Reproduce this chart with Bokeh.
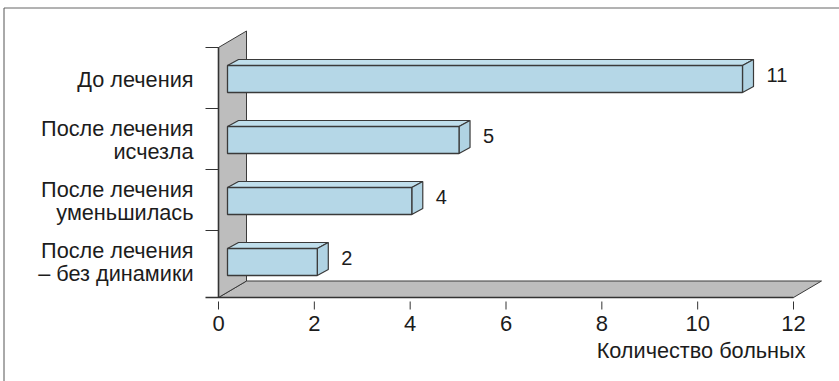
from bokeh.plotting import figure
from bokeh.models import Range1d
from bokeh.core.properties import value
from bokeh.embed import file_html
from bokeh.resources import INLINE

# ---------------- data ----------------
categories = ["До лечения",
              "После лечения\nисчезла",
              "После лечения\nуменьшилась",
              "После лечения\n– без динамики"]
counts = [11, 5, 4, 2]
x_ticks = [0, 2, 4, 6, 8, 10, 12]
x_tick_labels = ["0", "2", "4", "6", "8", "10", "12"]
x_axis_title = "Количество больных"

# ---------------- layout / style ----------------
W, H = 839, 381
X0_PX = 218            # pixel of x = 0
PX_X = 575 / 12        # pixels per patient
Y_TOP_PX = 47          # pixel of top of category axis
PX_Y = 61              # pixels per category band
FONT = value("Liberation Sans")
TXT = "#1c1c1c"
n = len(categories)
xmax = x_ticks[-1]


def dx(px):
    return px / PX_X


def dy(px):
    return px / PX_Y


x_start = -X0_PX / PX_X
x_end = x_start + W / PX_X
y_end = n + Y_TOP_PX / PX_Y
y_start = y_end - H / PX_Y

p = figure(width=W, height=H, x_range=Range1d(x_start, x_end),
           y_range=Range1d(y_start, y_end), output_backend="svg",
           toolbar_location=None, min_border=0,
           x_axis_location=None, y_axis_location=None)
p.outline_line_color = None
p.background_fill_color = "white"
p.border_fill_color = "white"
p.grid.visible = False

EDGE = "#3a3a3a"
WALL = "#bdbdbd"
WD_X, WD_Y = dx(28), dy(16.5)       # depth of the 3D box
y_floor = -dy(6)

# outer frame (top and left lines)
p.line([x_start + dx(3.5), x_end], [y_end - dy(7.5)] * 2, line_color="#666666", line_width=1)
p.line([x_start + dx(3.5)] * 2, [y_end - dy(7.5), y_start], line_color="#555555", line_width=1)

# floor and wall
p.patch([0, xmax, xmax + WD_X, WD_X], [y_floor, y_floor, y_floor + WD_Y, y_floor + WD_Y],
        fill_color=WALL, line_color=EDGE, line_width=1)
p.patch([0, 0, WD_X, WD_X], [y_floor, n, n + WD_Y, y_floor + WD_Y],
        fill_color=WALL, line_color=EDGE, line_width=1)
p.line([-dx(13), xmax], [y_floor, y_floor], line_color="#333333", line_width=1.6)
p.line([0, 0], [y_floor, n], line_color="#333333", line_width=1.6)

# category ticks
tick_y = list(range(1, n + 1))
p.segment(x0=[-dx(13)] * len(tick_y), y0=tick_y, x1=[0] * len(tick_y), y1=tick_y,
          line_color="#333333", line_width=1)

# x ticks and labels
p.segment(x0=x_ticks, y0=[y_floor - dy(4)] * len(x_ticks), x1=x_ticks,
          y1=[y_floor - dy(12)] * len(x_ticks), line_color="#333333", line_width=1)
p.text(x=x_ticks, y=[y_floor - dy(26)] * len(x_ticks), text=x_tick_labels,
       text_font=FONT, text_font_size="22px", text_color=TXT,
       text_align="center", text_baseline="middle")
p.text(x=[xmax + dx(12)], y=[y_floor - dy(53)], text=[x_axis_title],
       text_font=FONT, text_font_size="21.7px", text_color=TXT,
       text_align="right", text_baseline="middle")

# category labels
LH = 23.3
lab_x, lab_y, lab_t = [], [], []
for i, cat in enumerate(categories):
    yc = n - i - 0.5 - dy(1)
    lines = cat.split("\n")
    k = len(lines)
    for j, ln in enumerate(lines):
        lab_x.append(-dx(25))
        lab_y.append(yc + dy((k - 1) / 2 * LH - j * LH))
        lab_t.append(ln)
p.text(x=lab_x, y=lab_y, text=lab_t, text_font=FONT, text_font_size="21.7px",
       text_color=TXT, text_align="right", text_baseline="middle")

# 3D bars
PERSP = 0.986
BAR_L = dx(9)
BAR_X0 = dx(4.3)
BH = dy(13.5)
BDX, BDY = dx(11), dy(6)
front_xs, front_ys, top_xs, top_ys, side_xs, side_ys = [], [], [], [], [], []
vx, vy, vt = [], [], []
for i, v in enumerate(counts):
    yc = n - i - 0.5 - dy(1)
    xl = BAR_L
    xr = BAR_X0 + v * PERSP
    yb, yt = yc - BH, yc + BH
    front_xs.append([xl, xr, xr, xl])
    front_ys.append([yb, yb, yt, yt])
    top_xs.append([xl, xr, xr + BDX, xl + BDX])
    top_ys.append([yt, yt, yt + BDY, yt + BDY])
    side_xs.append([xr, xr, xr + BDX, xr + BDX])
    side_ys.append([yb, yt, yt + BDY, yb + BDY])
    vx.append(xr + BDX + dx(13))
    vy.append(yc + dy(4))
    vt.append(str(v))

p.patches(top_xs, top_ys, fill_color="#c0dfec", line_color=EDGE, line_width=1.2)
p.patches(side_xs, side_ys, fill_color="#b0d3e3", line_color=EDGE, line_width=1.2)
p.patches(front_xs, front_ys, fill_color="#b5d7e7", line_color=EDGE, line_width=1.3)

p.text(x=vx, y=vy, text=vt, text_font=FONT, text_font_size="20px",
       text_color=TXT, text_align="left", text_baseline="middle")

open("out.html", "w").write(file_html(p, INLINE))
